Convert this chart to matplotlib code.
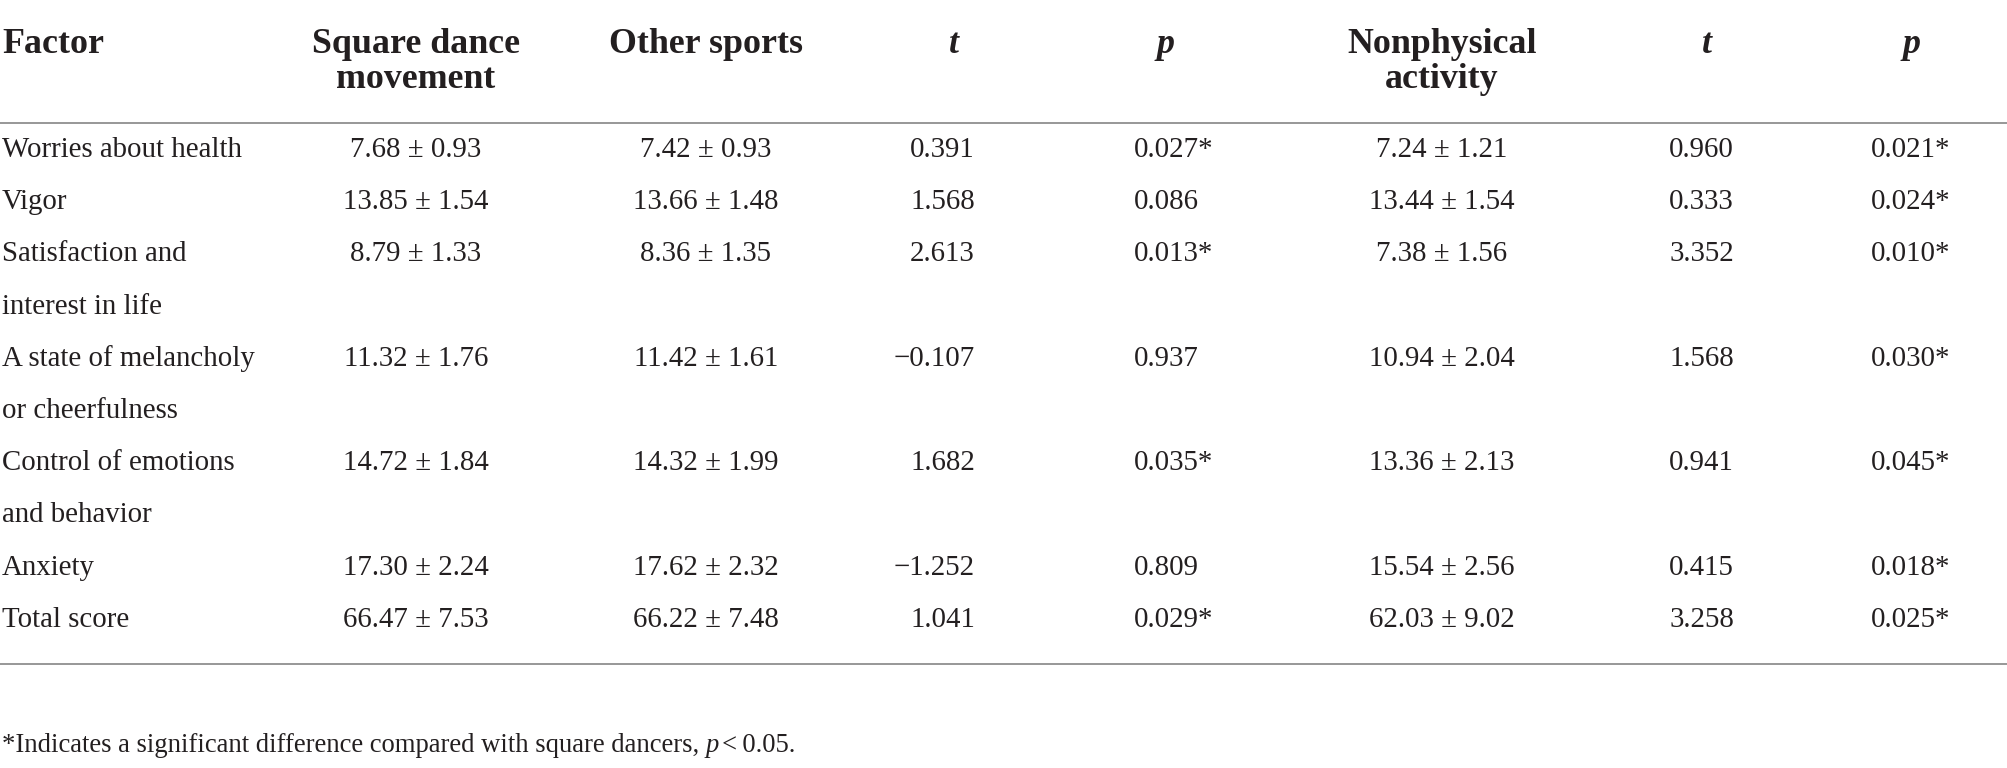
import matplotlib
matplotlib.use("Agg")
import matplotlib.pyplot as plt

plt.rcParams["font.family"] = ["Liberation Serif", "DejaVu Serif"]

TEXT_COLOR = "#231f20"
RULE_COLOR = "#8f8f8f"

# Table content
factors = [
    "Worries about health",
    "Vigor",
    "Satisfaction and\ninterest in life",
    "A state of melancholy\nor cheerfulness",
    "Control of emotions\nand behavior",
    "Anxiety",
    "Total score",
]
square_dance = ["7.68 ± 0.93", "13.85 ± 1.54", "8.79 ± 1.33", "11.32 ± 1.76",
                "14.72 ± 1.84", "17.30 ± 2.24", "66.47 ± 7.53"]
other_sports = ["7.42 ± 0.93", "13.66 ± 1.48", "8.36 ± 1.35", "11.42 ± 1.61",
                "14.32 ± 1.99", "17.62 ± 2.32", "66.22 ± 7.48"]
t_other = ["0.391", "1.568", "2.613", "\u22120.107", "1.682", "\u22121.252", "1.041"]
p_other = ["0.027*", "0.086", "0.013*", "0.937", "0.035*", "0.809", "0.029*"]
nonphysical = ["7.24 ± 1.21", "13.44 ± 1.54", "7.38 ± 1.56", "10.94 ± 2.04",
               "13.36 ± 2.13", "15.54 ± 2.56", "62.03 ± 9.02"]
t_nonphys = ["0.960", "0.333", "3.352", "1.568", "0.941", "0.415", "3.258"]
p_nonphys = ["0.021*", "0.024*", "0.010*", "0.030*", "0.045*", "0.018*", "0.025*"]

headers = ["Factor", "Square dance\nmovement", "Other sports", "t", "p",
           "Nonphysical\nactivity", "t", "p"]
footnote = "*Indicates a significant difference compared with square dancers, "

W, H = 2008, 768
fig = plt.figure(figsize=(W / 100, H / 100), dpi=100)
ax = fig.add_axes([0, 0, 1, 1])
ax.set_xlim(0, W)
ax.set_ylim(H, 0)
ax.axis("off")

HEAD_SIZE = 25.8
BODY_SIZE = 20.8
FOOT_SIZE = 19.2

# header positions: (x, ha)
head_pos = [(2, "left"), (416, "center"), (706, "center"), (954, "center"),
            (1166, "center"), (1442, "center"), (1707, "center"), (1912, "center")]
for text, (x, ha) in zip(headers, head_pos):
    style = "italic" if text in ("t", "p") else "normal"
    for k, line in enumerate(text.split("\n")):
        ax.text(x, 53 + 35 * k, line, ha=ha, va="baseline", fontsize=HEAD_SIZE,
                fontweight="bold", fontstyle=style, color=TEXT_COLOR)

ax.axhline(123, color=RULE_COLOR, lw=1.3)
ax.axhline(664, color=RULE_COLOR, lw=1.3)

# body
columns = [
    (square_dance, 416, "center"),
    (other_sports, 706, "center"),
    (t_other, 975, "right"),
    (p_other, 1134, "left"),
    (nonphysical, 1442, "center"),
    (t_nonphys, 1734, "right"),
    (p_nonphys, 1871, "left"),
]
first_base = 157
step = 52.2
line_idx = 0
for i, label in enumerate(factors):
    y = first_base + step * line_idx
    lines = label.split("\n")
    for k, line in enumerate(lines):
        ax.text(2, y + step * k, line, ha="left", va="baseline",
                fontsize=BODY_SIZE, color=TEXT_COLOR)
    for values, x, ha in columns:
        ax.text(x, y, values[i], ha=ha, va="baseline", fontsize=BODY_SIZE,
                color=TEXT_COLOR)
    line_idx += len(lines)

# footnote with italic p
fn = ax.text(2, 752, footnote, ha="left", va="baseline", fontsize=FOOT_SIZE,
             color=TEXT_COLOR)
renderer = fig.canvas.get_renderer()
bb = fn.get_window_extent(renderer)
pt = ax.text(bb.x1, 752, "p", ha="left", va="baseline", fontsize=FOOT_SIZE,
             fontstyle="italic", color=TEXT_COLOR)
pb = pt.get_window_extent(renderer)
ax.text(pb.x1 + 3, 752, "<\u20090.05.", ha="left", va="baseline",
        fontsize=FOOT_SIZE, color=TEXT_COLOR)

fig.savefig("out.png", dpi=100, facecolor="white")
